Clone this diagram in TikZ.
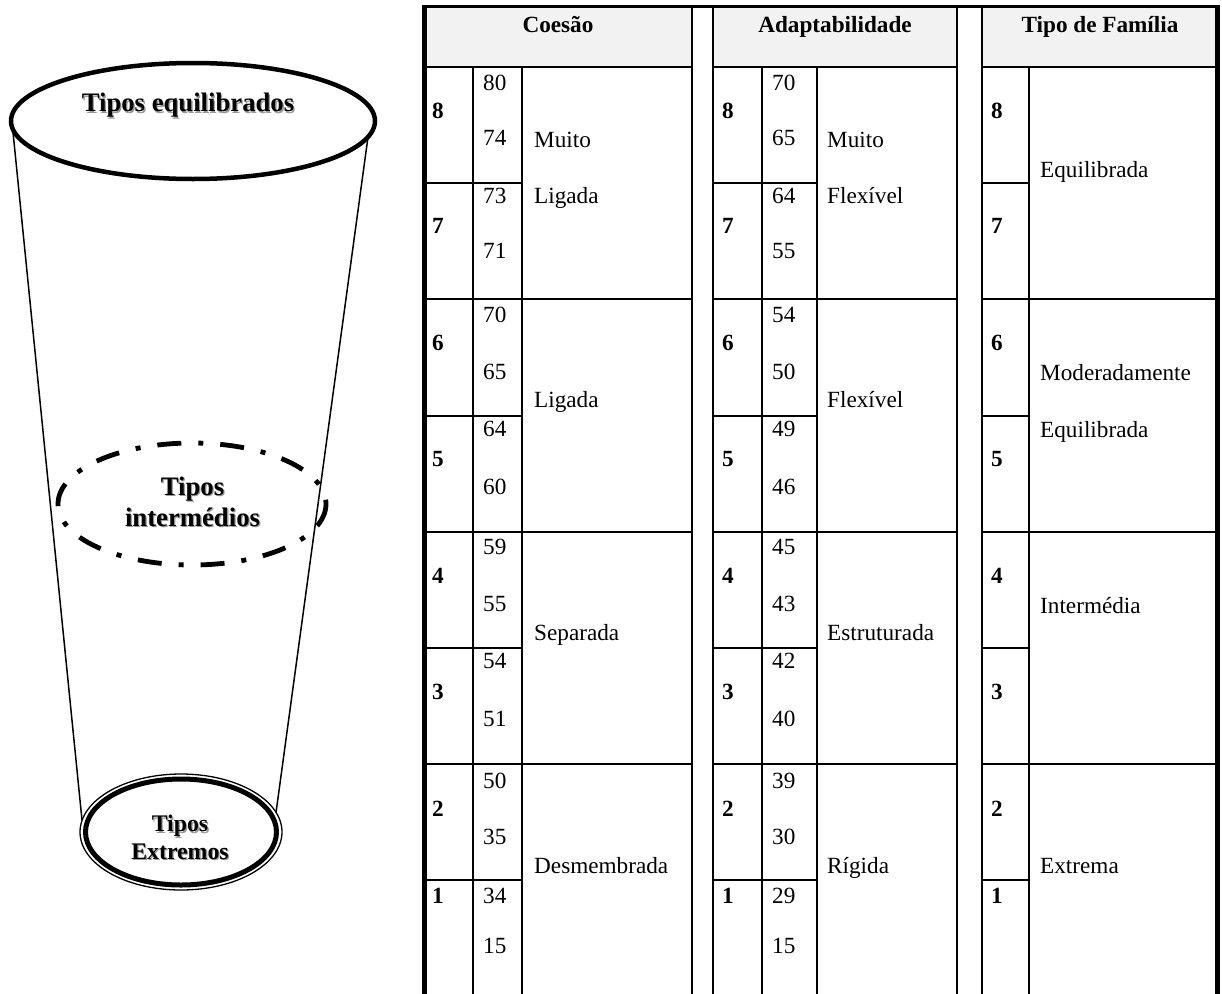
\documentclass[tikz,border=0pt]{standalone}
\usepackage{fontspec}
\setmainfont{Liberation Serif}
\definecolor{hdrgray}{HTML}{F2F2F2}
\definecolor{shadowgray}{HTML}{9A9A9A}
\begin{document}
\begin{tikzpicture}[x=1pt,y=-1pt,
  tbl/.style={line width=2pt, line cap=rect},
  txt/.style={font=\fontsize{23.2}{27}\selectfont, anchor=base west, inner sep=0pt},
  lvl/.style={font=\fontsize{23.2}{27}\selectfont\bfseries, anchor=base west, inner sep=0pt},
  hdr/.style={font=\fontsize{23.2}{27}\selectfont\bfseries, anchor=base, inner sep=0pt},
  big/.style={font=\fontsize{26.7}{31}\selectfont\bfseries, anchor=base, inner sep=0pt},
  mid/.style={font=\fontsize{23.8}{28}\selectfont\bfseries, anchor=base, inner sep=0pt},
  shd/.style={text=shadowgray},
]
\useasboundingbox (0,0) rectangle (1222,993);

% ---------- left figure ----------
\coordinate (tl) at (13,132);
\coordinate (tr) at (368,137);
\coordinate (bl) at (82,820);
\coordinate (br) at (275,820);
\draw[line width=1.5pt] (tl) -- (bl);
\draw[line width=1.5pt] (tr) -- (br);

\draw[line width=4.5pt] (193,121) ellipse [x radius=182, y radius=58];
\draw[line width=4.8pt, dash pattern=on 24pt off 17pt on 5pt off 17pt] (192,504) ellipse [x radius=134, y radius=61];
\fill[white] (181,832) ellipse [x radius=101, y radius=58];
\draw[line width=1.3pt] (181,832) ellipse [x radius=101, y radius=58];
\draw[line width=5pt] (181,832) ellipse [x radius=95.5, y radius=53];

\node[big, shd] (s1) at (189.3,113) {Tipos equilibrados};
\node[big] (t1) at (188,111.7) {Tipos equilibrados};
\node[big, shd] (s2a) at (193.8,496.3) {Tipos};
\node[big] (t2a) at (192.5,495) {Tipos};
\node[big, shd] (s2b) at (193.8,527.3) {intermédios};
\node[big] (t2b) at (192.5,526) {intermédios};
\node[mid, shd] (s3a) at (181.3,833) {Tipos};
\node[mid] (t3a) at (180,831.7) {Tipos};
\node[mid, shd] (s3b) at (181.3,860.3) {Extremos};
\node[mid] (t3b) at (180,859) {Extremos};

% ---------- table ----------
\fill[hdrgray] (424,6.5) rectangle (692,66.5);
\fill[hdrgray] (713,6.5) rectangle (957,66.5);
\fill[hdrgray] (982,6.5) rectangle (1217,66.5);

\foreach \L/\R/\H in {424/692/522, 713/957/817, 982/1217/1029} {
  \foreach \y in {66.5,299,532,764} \draw[tbl] (\L,\y) -- (\R,\y);
  \foreach \y in {183,415.5,648,880} \draw[tbl] (\L,\y) -- (\H,\y);
}
\foreach \x in {692,713,957,982} \draw[tbl] (\x,6.5) -- (\x,996);
\foreach \x in {473,522,762,817,1029} \draw[tbl] (\x,66.5) -- (\x,996);
\draw[line width=4.5pt] (424.5,4.7) -- (424.5,996);
\draw[line width=5pt] (1217.5,4.7) -- (1217.5,996);
\draw[line width=3.5pt] (422.2,6.5) -- (1220,6.5);

\node[hdr] (h1) at (558,32) {Coesão};
\node[hdr] (h2) at (835,32) {Adaptabilidade};
\node[hdr] (h3) at (1100,32) {Tipo de Família};

\foreach \lv/\ly/\ya/\yb/\a/\b/\c/\d in {
 8/118/90/145.5/80/74/70/65,
 7/233/203/258/73/71/64/55,
 6/350/322/379/70/65/54/50,
 5/466/436/494/64/60/49/46,
 4/583/554/611/59/55/45/43,
 3/699/668/726/54/51/42/40,
 2/816/788/844/50/35/39/30,
 1/903/903/953/34/15/29/15}{
  \node[lvl] (cl\lv) at (432,\ly) {\lv};
  \node[txt] (ca\lv) at (483,\ya) {\a};
  \node[txt] (cb\lv) at (483,\yb) {\b};
  \node[lvl] (al\lv) at (722,\ly) {\lv};
  \node[txt] (aa\lv) at (772,\ya) {\c};
  \node[txt] (ab\lv) at (772,\yb) {\d};
  \node[lvl] (fl\lv) at (991,\ly) {\lv};
}

% labels
\node[txt] (cm1) at (534,147) {Muito};
\node[txt] (cm2) at (534,203) {Ligada};
\node[txt] (cm3) at (534,407) {Ligada};
\node[txt] (cm4) at (534,640) {Separada};
\node[txt] (cm5) at (534,873) {Desmembrada};

\node[txt] (am1) at (827,147) {Muito};
\node[txt] (am2) at (827,203) {Flexível};
\node[txt] (am3) at (827,407) {Flexível};
\node[txt] (am4) at (827,640) {Estruturada};
\node[txt] (am5) at (827,873) {Rígida};

\node[txt] (fm1) at (1040,177) {Equilibrada};
\node[txt] (fm2) at (1040,380) {Moderadamente};
\node[txt] (fm3) at (1040,437) {Equilibrada};
\node[txt] (fm4) at (1040,613) {Intermédia};
\node[txt] (fm5) at (1040,873) {Extrema};
\end{tikzpicture}
\end{document}
